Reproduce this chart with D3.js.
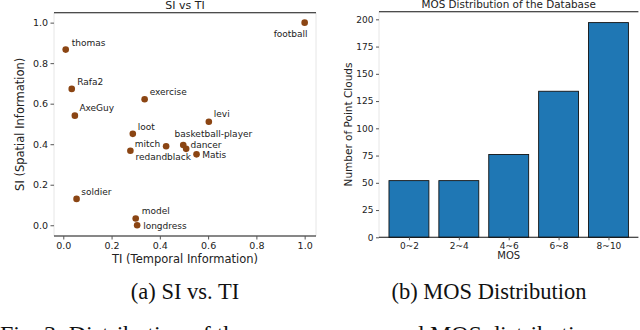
<!DOCTYPE html>
<html lang="en">
  <head>
    <meta charset="utf-8">
    <title>SI vs TI / MOS Distribution</title>
    <script src="https://d3js.org/d3.v7.min.js"></script>
    <style>
      body { margin: 0; background: #fff; }
      text { font-family: "DejaVu Sans", sans-serif; fill: #222; }
      .cap { font-family: "Liberation Serif", "Times New Roman", serif; fill: #111; }
    </style>
  </head>
  <body>
    <div id="chart"></div>
    <script>
    // scatter data: source sequences (TI, SI)
    var names = ["football", "thomas", "Rafa2", "AxeGuy", "exercise", "levi", "loot",
                 "mitch", "redandblack", "basketball-player", "dancer", "Matis",
                 "soldier", "model", "longdress"];
    var tiValues = [1.0, 0.01, 0.035, 0.048, 0.337, 0.603, 0.288,
                    0.278, 0.426, 0.497, 0.509, 0.552, 0.055, 0.300, 0.306];
    var siValues = [1.0, 0.867, 0.673, 0.541, 0.622, 0.511, 0.451,
                    0.368, 0.390, 0.396, 0.377, 0.350, 0.130, 0.033, 0.0];
    // label offsets in px (dx, dy) for each annotation
    var labelDx = [-31, 6, 5.5, 4.5, 5, 5, 5, 4.3, -30.7, -8.7, 4.3, 5.7, 4.7, 6, 6];
    var labelDy = [14, -3.5, -4, -4.5, -4, -4.5, -4, -3.2, 13.7, -8, -0.5, 3.7, -4, -5, 3.5];
    var siTicks = [0.0, 0.2, 0.4, 0.6, 0.8, 1.0];
    var tiTicks = [0.0, 0.2, 0.4, 0.6, 0.8, 1.0];

    // bar data: MOS histogram
    var mosBins = ["0~2", "2~4", "4~6", "6~8", "8~10"];
    var mosCounts = [52, 52, 76, 134, 197];
    var countTicks = [0, 25, 50, 75, 100, 125, 150, 175, 200];

    var W = 640, H = 330;
    var svg = d3.select("#chart").append("svg")
      .attr("width", W).attr("height", H)
      .style("background", "#fff");

    // ---------------- left panel: SI vs TI ----------------
    var L = {left: 54, right: 316, top: 12.7, bottom: 236};
    var x1 = d3.scaleLinear().domain([-0.0385, 1.047]).range([L.left, L.right]);
    var y1 = d3.scaleLinear().domain([-0.053, 1.049]).range([L.bottom, L.top]);

    var g1 = svg.append("g");

    // faint side spines, dark top/bottom
    g1.append("line").attr("x1", L.left).attr("x2", L.left).attr("y1", L.top).attr("y2", L.bottom)
      .attr("stroke", "#e6e6e6").attr("stroke-width", 1);
    g1.append("line").attr("x1", L.right).attr("x2", L.right).attr("y1", L.top).attr("y2", L.bottom)
      .attr("stroke", "#e6e6e6").attr("stroke-width", 1);
    g1.append("line").attr("x1", L.left).attr("x2", L.right).attr("y1", L.top).attr("y2", L.top)
      .attr("stroke", "#111").attr("stroke-width", 1.1);

    var xAxis1 = g1.append("g")
      .attr("transform", "translate(0," + L.bottom + ")")
      .call(d3.axisBottom(x1).tickValues(tiTicks).tickFormat(d3.format(".1f")).tickSize(3.5).tickPadding(2.5));
    xAxis1.select(".domain").attr("stroke", "#111").attr("stroke-width", 1.1)
      .attr("d", "M" + L.left + ",0H" + L.right);
    var yAxis1 = g1.append("g")
      .attr("transform", "translate(" + L.left + ",0)")
      .call(d3.axisLeft(y1).tickValues(siTicks).tickFormat(d3.format(".1f")).tickSize(3.5).tickPadding(2.5));
    yAxis1.select(".domain").remove();
    g1.selectAll(".tick text").attr("font-size", 9.5).attr("font-family", "DejaVu Sans").attr("fill", "#222");
    g1.selectAll(".tick line").attr("stroke", "#555");

    var pts = d3.range(names.length).map(function(i) {
      return {name: names[i], ti: tiValues[i], si: siValues[i], dx: labelDx[i], dy: labelDy[i]};
    });

    g1.selectAll("circle.pt").data(pts).enter().append("circle")
      .attr("class", "pt")
      .attr("cx", function(d) { return x1(d.ti); })
      .attr("cy", function(d) { return y1(d.si); })
      .attr("r", 3.3)
      .attr("fill", "#8b4513");

    g1.selectAll("text.lbl").data(pts).enter().append("text")
      .attr("class", "lbl")
      .attr("x", function(d) { return x1(d.ti) + d.dx; })
      .attr("y", function(d) { return y1(d.si) + d.dy; })
      .attr("font-size", 9)
      .text(function(d) { return d.name; });

    g1.append("text").attr("x", (L.left + L.right) / 2).attr("y", 9)
      .attr("text-anchor", "middle").attr("font-size", 11).text("SI vs TI");
    g1.append("text").attr("x", (L.left + L.right) / 2).attr("y", 263)
      .attr("text-anchor", "middle").attr("font-size", 11.5).text("TI (Temporal Information)");
    g1.append("text")
      .attr("transform", "translate(24," + ((L.top + L.bottom) / 2) + ") rotate(-90)")
      .attr("text-anchor", "middle").attr("font-size", 11.5).text("SI (Spatial Information)");

    // ---------------- right panel: MOS distribution ----------------
    var R = {left: 379, right: 638.4, top: 11.7, bottom: 237.3};
    var x2 = d3.scaleLinear().domain([-0.6, mosBins.length - 0.4]).range([R.left, R.right]);
    var y2 = d3.scaleLinear().domain([0, 207]).range([R.bottom, R.top]);

    var g2 = svg.append("g");
    g2.append("line").attr("x1", R.left).attr("x2", R.left).attr("y1", R.top).attr("y2", R.bottom)
      .attr("stroke", "#e6e6e6").attr("stroke-width", 1);
    g2.append("line").attr("x1", R.left).attr("x2", R.right).attr("y1", R.top).attr("y2", R.top)
      .attr("stroke", "#111").attr("stroke-width", 1.1);

    var barW = 0.8;
    g2.selectAll("rect.bar").data(mosCounts).enter().append("rect")
      .attr("class", "bar")
      .attr("x", function(d, i) { return x2(i - barW / 2); })
      .attr("width", function() { return x2(barW) - x2(0); })
      .attr("y", function(d) { return y2(d); })
      .attr("height", function(d) { return y2(0) - y2(d); })
      .attr("fill", "#1f77b4")
      .attr("stroke", "#111").attr("stroke-width", 0.9);

    var xAxis2 = g2.append("g")
      .attr("transform", "translate(0," + R.bottom + ")")
      .call(d3.axisBottom(x2).tickValues(d3.range(mosBins.length))
        .tickFormat(function(i) { return mosBins[i]; }).tickSize(3).tickPadding(2.5));
    xAxis2.select(".domain").attr("stroke", "#111").attr("stroke-width", 1.1)
      .attr("d", "M" + R.left + ",0H" + R.right);
    var yAxis2 = g2.append("g")
      .attr("transform", "translate(" + R.left + ",0)")
      .call(d3.axisLeft(y2).tickValues(countTicks).tickSize(3).tickPadding(2.5));
    yAxis2.select(".domain").remove();
    g2.selectAll(".tick text").attr("font-size", 9).attr("font-family", "DejaVu Sans").attr("fill", "#222");
    g2.selectAll(".tick line").attr("stroke", "#555");

    g2.append("text").attr("x", (R.left + R.right) / 2).attr("y", 8)
      .attr("text-anchor", "middle").attr("font-size", 10.4).text("MOS Distribution of the Database");
    g2.append("text").attr("x", (R.left + R.right) / 2).attr("y", 259)
      .attr("text-anchor", "middle").attr("font-size", 10).text("MOS");
    g2.append("text")
      .attr("transform", "translate(352," + ((R.top + R.bottom) / 2) + ") rotate(-90)")
      .attr("text-anchor", "middle").attr("font-size", 10.5).text("Number of Point Clouds");

    // ---------------- captions ----------------
    svg.append("text").attr("class", "cap").attr("x", 185).attr("y", 299)
      .attr("text-anchor", "middle").attr("font-size", 22.5).text("(a) SI vs. TI");
    svg.append("text").attr("class", "cap").attr("x", 489).attr("y", 299)
      .attr("text-anchor", "middle").attr("font-size", 22.5).text("(b) MOS Distribution");
    svg.append("text").attr("class", "cap").attr("x", 0).attr("y", 342)
      .attr("font-size", 24).text("Fig. 3: Distribution of the source scenes and MOS distribution.");
    </script>
  </body>
</html>
